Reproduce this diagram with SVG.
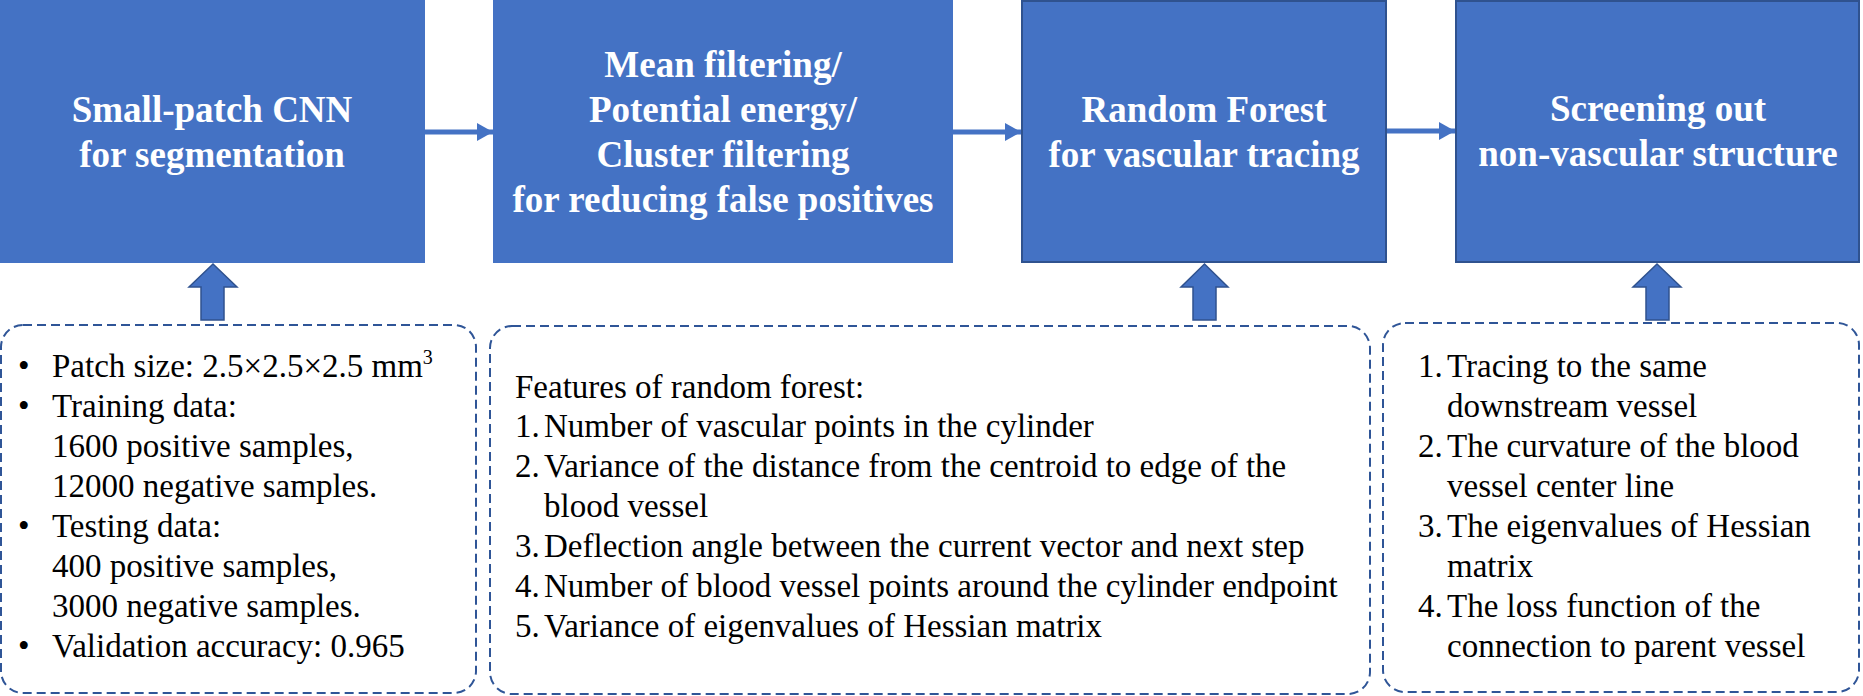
<svg xmlns="http://www.w3.org/2000/svg" width="1863" height="696" viewBox="0 0 1863 696">
<style>
.blk{fill:#4472C4}
.bdr{fill:#4472C4;stroke:#2F528F;stroke-width:2}
.dash{fill:#fff;stroke:#2F5597;stroke-width:2;stroke-dasharray:9 5}
.conn{stroke:#4472C4;stroke-width:5;fill:none}
.up{fill:#4472C4;stroke:#2F528F;stroke-width:1.5}
</style>
<defs>
<marker id="ah" viewBox="0 0 16 18" refX="16" refY="9" markerWidth="16" markerHeight="18" markerUnits="userSpaceOnUse" orient="auto">
<path d="M0,0 L16,9 L0,18 Z" fill="#4472C4"/>
</marker>
</defs>

<g id="node-cnn" font-family="Liberation Serif, Tinos, Times New Roman, DejaVu Serif, serif" font-weight="bold" font-size="37" fill="#fff" text-anchor="middle">
<rect class="blk" x="0" y="0" width="425" height="263"/>
<text x="212" y="122">Small-patch CNN</text>
<text x="212" y="167">for segmentation</text>
</g>

<g id="node-filter" font-family="Liberation Serif, Tinos, Times New Roman, DejaVu Serif, serif" font-weight="bold" font-size="37" fill="#fff" text-anchor="middle">
<rect class="blk" x="493" y="0" width="460" height="263"/>
<text x="723" y="77">Mean filtering/</text>
<text x="723" y="122">Potential energy/</text>
<text x="723" y="167">Cluster filtering</text>
<text x="723" y="212">for reducing false positives</text>
</g>

<g id="node-rf" font-family="Liberation Serif, Tinos, Times New Roman, DejaVu Serif, serif" font-weight="bold" font-size="37" fill="#fff" text-anchor="middle">
<rect class="bdr" x="1022" y="1" width="364" height="261"/>
<text x="1204" y="122">Random Forest</text>
<text x="1204" y="167">for vascular tracing</text>
</g>

<g id="node-screen" font-family="Liberation Serif, Tinos, Times New Roman, DejaVu Serif, serif" font-weight="bold" font-size="37" fill="#fff" text-anchor="middle">
<rect class="bdr" x="1456" y="1" width="403" height="261"/>
<text x="1658" y="121">Screening out</text>
<text x="1658" y="166">non-vascular structure</text>
</g>

<g id="note-cnn">
<rect class="dash" x="1" y="325" width="475" height="368" rx="22" ry="22"/>
<g font-family="Liberation Serif, Tinos, Times New Roman, DejaVu Serif, serif" font-size="33" fill="#000">
<text x="18" y="377">•</text>
<text x="52" y="377">Patch size: 2.5×2.5×2.5 mm<tspan font-size="20" dy="-13">3</tspan></text>
<text x="18" y="417">•</text>
<text x="52" y="417">Training data:</text>
<text x="52" y="457">1600 positive samples,</text>
<text x="52" y="497">12000 negative samples.</text>
<text x="18" y="537">•</text>
<text x="52" y="537">Testing data:</text>
<text x="52" y="577">400 positive samples,</text>
<text x="52" y="617">3000 negative samples.</text>
<text x="18" y="657">•</text>
<text x="52" y="657">Validation accuracy: 0.965</text>
</g>
</g>

<g id="note-rf">
<rect class="dash" x="490" y="326" width="880" height="368" rx="22" ry="22"/>
<g font-family="Liberation Serif, Tinos, Times New Roman, DejaVu Serif, serif" font-size="33" fill="#000">
<text x="515" y="398">Features of random forest:</text>
<text x="515" y="437">1.</text><text x="544" y="437">Number of vascular points in the cylinder</text>
<text x="515" y="477">2.</text><text x="544" y="477">Variance of the distance from the centroid to edge of the</text>
<text x="544" y="517">blood vessel</text>
<text x="515" y="557">3.</text><text x="544" y="557">Deflection angle between the current vector and next step</text>
<text x="515" y="597">4.</text><text x="544" y="597">Number of blood vessel points around the cylinder endpoint</text>
<text x="515" y="637">5.</text><text x="544" y="637">Variance of eigenvalues of Hessian matrix</text>
</g>
</g>

<g id="note-screen">
<rect class="dash" x="1383" y="323" width="476" height="369" rx="22" ry="22"/>
<g font-family="Liberation Serif, Tinos, Times New Roman, DejaVu Serif, serif" font-size="33" fill="#000">
<text x="1418" y="377">1.</text><text x="1447" y="377">Tracing to the same</text>
<text x="1447" y="417">downstream vessel</text>
<text x="1418" y="457">2.</text><text x="1447" y="457">The curvature of the blood</text>
<text x="1447" y="497">vessel center line</text>
<text x="1418" y="537">3.</text><text x="1447" y="537">The eigenvalues of Hessian</text>
<text x="1447" y="577">matrix</text>
<text x="1418" y="617">4.</text><text x="1447" y="617">The loss function of the</text>
<text x="1447" y="657">connection to parent vessel</text>
</g>
</g>

<g id="connectors">
<line class="conn" x1="425" y1="132" x2="493" y2="132" marker-end="url(#ah)"/>
<line class="conn" x1="953" y1="132" x2="1021" y2="132" marker-end="url(#ah)"/>
<line class="conn" x1="1387" y1="131" x2="1455" y2="131" marker-end="url(#ah)"/>
<path class="up" d="M213,264 L237,287 L224,287 L224,320 L201,320 L201,287 L189,287 Z"/>
<path class="up" d="M1204.5,264 L1228,287 L1216,287 L1216,320 L1193,320 L1193,287 L1181,287 Z"/>
<path class="up" d="M1657,264 L1681,287 L1669,287 L1669,320 L1646,320 L1646,287 L1633,287 Z"/>
</g>
</svg>
